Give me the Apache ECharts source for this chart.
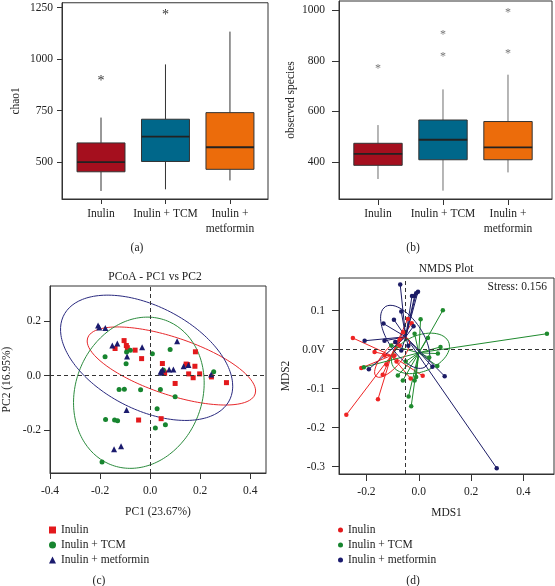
<!DOCTYPE html>
<html><head><meta charset="utf-8">
<script src="https://cdn.jsdelivr.net/npm/echarts@6/dist/echarts.min.js"></script>
<style>html,body{margin:0;padding:0;background:#fff}#c{width:555px;height:586px}</style>
</head><body><div id="c"></div>
<script>
// ---------- data ----------
const boxGroups = ['Inulin', 'Inulin + TCM', 'Inulin +\nmetformin'];
const groupNames = ['Inulin', 'Inulin + TCM', 'Inulin + metformin'];
// [lower whisker, Q1, median, Q3, upper whisker]
const chao1Stats = [[360, 453, 500, 593, 716], [368, 503, 624, 708, 974], [411, 465, 572, 740, 1133]];
const chao1Outliers = [[1, 906], [2, 1227]];
const chao1Ticks = [500, 750, 1000, 1250];
const speciesStats = [[333, 387, 432, 474, 546], [287, 409, 488, 566, 687], [359, 409, 458, 560, 745]];
const speciesOutliers = [[1, 780], [2, 912], [2, 826], [3, 1000], [3, 838]];
const speciesTicks = [400, 600, 800, 1000];

const pcoaInulin = [[-0.140,0.099],[-0.104,0.128],[-0.095,0.110],[-0.091,0.102],[-0.060,0.093],[-0.034,0.062],[0.049,0.044],[0.056,0.012],[0.100,-0.029],[0.144,0.042],[0.150,0.040],[0.179,0.034],[0.181,0.087],[0.154,0.006],[0.172,-0.008],[0.198,0.006],[0.245,-0.005],[0.305,-0.026],[-0.046,-0.163],[0.044,-0.158],[0.058,0.008]];
const pcoaTCM = [[-0.180,0.069],[-0.094,0.086],[-0.079,0.093],[-0.096,0.043],[0.009,0.080],[0.080,0.095],[-0.124,-0.051],[-0.103,-0.050],[-0.038,-0.052],[0.041,-0.051],[0.100,-0.078],[0.028,-0.122],[-0.178,-0.161],[-0.142,-0.163],[-0.130,-0.166],[0.021,-0.192],[0.061,-0.180],[-0.192,-0.317],[0.254,0.014],[0.053,0.020]];
const pcoaMetformin = [[-0.208,0.183],[-0.203,0.176],[-0.179,0.174],[-0.151,0.110],[-0.131,0.117],[-0.092,0.070],[-0.032,0.104],[0.108,0.126],[0.042,0.014],[0.050,0.021],[0.076,0.022],[0.093,0.022],[0.134,0.034],[0.153,0.039],[0.244,0.004],[-0.094,-0.126],[-0.144,-0.270],[-0.116,-0.259],[0.046,0.010]];
// ellipse: [centre x, centre y, half width, half height, correlation]
const pcoaEllipses = [[0.085, 0.035, 0.3365, 0.143, -0.64], [-0.045, -0.063, 0.261, 0.277, 0.13], [-0.014, 0.065, 0.344, 0.2295, -0.453]];
const pcoaXTicks = [-0.4, -0.2, 0, 0.2, 0.4];
const pcoaYTicks = [-0.2, 0, 0.2];

const nmdsInulin = [[-0.252,0.030],[-0.169,-0.006],[-0.220,-0.047],[-0.277,-0.167],[-0.156,-0.127],[-0.138,-0.064],[-0.124,-0.038],[-0.031,-0.074],[0.015,-0.067],[-0.042,0.079],[-0.027,0.068],[-0.073,0.026],[-0.073,0.011],[-0.093,-0.015],[-0.131,-0.015],[-0.060,0.045],[-0.085,-0.030]];
const nmdsTCM = [[0.092,0.101],[0.007,0.078],[0.035,0.030],[0.083,0.007],[0.490,0.041],[-0.210,-0.045],[-0.029,-0.145],[-0.039,-0.120],[-0.080,-0.066],[-0.061,-0.079],[-0.016,-0.079],[-0.010,-0.070],[0.071,-0.042],[0.073,-0.010],[-0.105,0.011],[-0.016,0.041],[0.040,-0.020],[-0.050,-0.030]];
const nmdsMetformin = [[-0.071,0.167],[-0.003,0.149],[-0.010,0.145],[-0.016,0.138],[-0.026,0.138],[-0.067,0.098],[-0.095,0.077],[-0.135,0.067],[-0.207,0.023],[-0.131,0.023],[-0.191,-0.050],[0.099,-0.068],[0.052,-0.044],[0.298,-0.304],[-0.067,-0.002],[-0.090,0.020],[-0.040,0.010],[-0.020,0.060]];
const nmdsCentroids = [[-0.105, -0.015], [0.0, -0.008], [-0.05, 0.033]];
const nmdsEllipses = [[-0.102, -0.02, 0.067, 0.051, 0.75], [0.0065, -0.0095, 0.111, 0.052, 0.35], [-0.052, 0.033, 0.094, 0.081, -0.6]];
const nmdsXTicks = [-0.2, 0, 0.2, 0.4];
const nmdsYTicks = [-0.3, -0.2, -0.1, 0, 0.1];
const nmdsStress = 0.156;

// ---------- styles ----------
const FONT = 'Liberation Serif';
const TXT = '#222';
const boxColors = ['#a50f1e', '#00678a', '#ec6c0b'];
const pcoaColors = ['#e3191c', '#17852f', '#1b1b6e'];
const pcoaEllColors = ['#e8282b', '#2b8b3d', '#2a2a7f'];
const nmdsColors = ['#ee2424', '#1f8a2e', '#1c1c66'];

function ellipsePts(e) {
  const [cx, cy, sx, sy, r] = e, k = Math.sqrt(1 - r * r), pts = [];
  for (let i = 0; i <= 180; i++) {
    const t = i / 180 * 2 * Math.PI;
    pts.push([cx + sx * Math.cos(t), cy + sy * (r * Math.cos(t) + k * Math.sin(t))]);
  }
  return pts;
}
function boxRender(whisker, halfW) {
  return function (params, api) {
    const x = api.value(0);
    const lo = api.coord([x, api.value(1)]), q1 = api.coord([x, api.value(2)]),
      md = api.coord([x, api.value(3)]), q3 = api.coord([x, api.value(4)]), hi = api.coord([x, api.value(5)]);
    const hw = api.size([halfW, 0])[0], cx = lo[0];
    return { type: 'group', children: [
      { type: 'line', shape: { x1: cx, y1: lo[1], x2: cx, y2: q1[1] }, style: { stroke: whisker, lineWidth: 1 } },
      { type: 'line', shape: { x1: cx, y1: q3[1], x2: cx, y2: hi[1] }, style: { stroke: whisker, lineWidth: 1 } },
      { type: 'rect', shape: { x: cx - hw, y: q3[1], width: 2 * hw, height: q1[1] - q3[1] }, style: { fill: boxColors[params.dataIndex], stroke: '#333', lineWidth: 1 } },
      { type: 'line', shape: { x1: cx - hw, y1: md[1], x2: cx + hw, y2: md[1] }, style: { stroke: '#222', lineWidth: 1.8 } }
    ] };
  };
}
function starRender(color, size) {
  return function (params, api) {
    const p = api.coord([api.value(0), api.value(1)]);
    return { type: 'text', x: p[0], y: p[1] + size * 0.22, style: { text: '*', fontSize: size, fontFamily: FONT, fill: color, align: 'center', verticalAlign: 'middle' } };
  };
}
function spiderRender(c0, color) {
  return function (params, api) {
    const c = api.coord(c0), p = api.coord([api.value(0), api.value(1)]);
    return { type: 'line', shape: { x1: c[0], y1: c[1], x2: p[0], y2: p[1] }, style: { stroke: color, lineWidth: 1 } };
  };
}
const lab = { fontFamily: FONT, fontSize: 11.5, color: TXT };
function valAxis(o) {
  return Object.assign({
    type: 'value', splitLine: { show: false },
    axisLine: { show: true, onZero: false, lineStyle: { color: '#333' } },
    axisTick: { length: o.tick || 6, lineStyle: { color: '#333' }, customValues: o.ticks },
    axisLabel: Object.assign({ customValues: o.ticks, margin: o.margin, formatter: o.fmt, lineHeight: 15 }, lab),
    nameLocation: 'middle', nameTextStyle: Object.assign({}, lab)
  }, o.extra);
}
const f1 = v => (Math.abs(v) < 1e-9 ? '0.0' : v.toFixed(1));
const dashed = { silent: true, symbol: 'none', label: { show: false }, lineStyle: { type: [4, 3], color: '#333', width: 1 } };

const option = {
  animation: false,
  backgroundColor: '#fff',
  grid: [
    { left: 62, top: 2, width: 206, height: 197, show: true, borderColor: '#333', borderWidth: 1 },
    { left: 339, top: 1, width: 213, height: 198, show: true, borderColor: '#333', borderWidth: 1 },
    { left: 50, top: 286, width: 216, height: 187, show: true, borderColor: '#333', borderWidth: 1 },
    { left: 339, top: 278, width: 215, height: 196, show: true, borderColor: '#333', borderWidth: 1 }
  ],
  xAxis: [
    valAxis({ ticks: [1, 2, 3], margin: 7, tick: 5, fmt: v => boxGroups[Math.round(v) - 1], extra: { gridIndex: 0, min: 0.395, max: 3.59 } }),
    valAxis({ ticks: [1, 2, 3], margin: 7, tick: 6, fmt: v => boxGroups[Math.round(v) - 1], extra: { gridIndex: 1, min: 0.4, max: 3.677 } }),
    valAxis({ ticks: pcoaXTicks, margin: 10, fmt: f1, extra: { gridIndex: 2, min: -0.4, max: 0.463, name: 'PC1 (23.67%)', nameGap: 33 } }),
    valAxis({ ticks: nmdsXTicks, margin: 10, tick: 7, fmt: f1, extra: { gridIndex: 3, min: -0.305, max: 0.517, name: 'MDS1', nameGap: 33 } })
  ],
  yAxis: [
    valAxis({ ticks: chao1Ticks, margin: 9, tick: 5, fmt: v => String(v), extra: { gridIndex: 0, min: 321, max: 1273, name: 'chao1', nameGap: 40 } }),
    valAxis({ ticks: speciesTicks, margin: 14, tick: 7, fmt: v => String(v), extra: { gridIndex: 1, min: 254, max: 1036, name: 'observed species', nameGap: 42 } }),
    valAxis({ ticks: pcoaYTicks, margin: 9, fmt: f1, extra: { gridIndex: 2, min: -0.357, max: 0.328, name: 'PC2 (16.95%)', nameGap: 37 } }),
    valAxis({ ticks: nmdsYTicks, margin: 14, tick: 7, fmt: v => (Math.abs(v) < 1e-9 ? '0.0V' : v.toFixed(1)), extra: { gridIndex: 3, min: -0.319, max: 0.184, name: 'MDS2', nameGap: 47 } })
  ],
  legend: [
    { left: 49, top: 523, orient: 'vertical', padding: 0, itemGap: 1, itemWidth: 7, itemHeight: 7, selectedMode: false,
      textStyle: Object.assign({ lineHeight: 14 }, lab),
      data: [{ name: groupNames[0], icon: 'rect' }, { name: groupNames[1], icon: 'circle' }, { name: groupNames[2], icon: 'triangle' }] },
    { left: 338, top: 523, orient: 'vertical', padding: 0, itemGap: 1, itemWidth: 5, itemHeight: 5, selectedMode: false,
      textStyle: Object.assign({ lineHeight: 14 }, lab),
      data: groupNames.map(n => ({ name: n, icon: 'circle' })) }
  ],
  graphic: [
    { type: 'text', x: 137, y: 248, style: { text: '(a)', align: 'center', verticalAlign: 'middle', fontSize: 11.5, fontFamily: FONT, fill: TXT } },
    { type: 'text', x: 413, y: 248, style: { text: '(b)', align: 'center', verticalAlign: 'middle', fontSize: 11.5, fontFamily: FONT, fill: TXT } },
    { type: 'text', x: 99, y: 581, style: { text: '(c)', align: 'center', verticalAlign: 'middle', fontSize: 11.5, fontFamily: FONT, fill: TXT } },
    { type: 'text', x: 413, y: 581, style: { text: '(d)', align: 'center', verticalAlign: 'middle', fontSize: 11.5, fontFamily: FONT, fill: TXT } },
    { type: 'text', x: 155, y: 277, style: { text: 'PCoA - PC1 vs PC2', align: 'center', verticalAlign: 'middle', fontSize: 11.5, fontFamily: FONT, fill: TXT } },
    { type: 'text', x: 446, y: 269, style: { text: 'NMDS Plot', align: 'center', verticalAlign: 'middle', fontSize: 11.5, fontFamily: FONT, fill: TXT } },
    { type: 'text', x: 547, y: 287, style: { text: 'Stress: ' + nmdsStress, align: 'right', verticalAlign: 'middle', fontSize: 11.5, fontFamily: FONT, fill: TXT } }
  ],
  series: []
};

// (a) and (b) boxplots
option.series.push({ type: 'custom', name: 'chao1', xAxisIndex: 0, yAxisIndex: 0, renderItem: boxRender('#333', 0.372), encode: { x: 0, y: [1, 2, 3, 4, 5] }, data: chao1Stats.map((s, i) => [i + 1].concat(s)) });
option.series.push({ type: 'custom', name: 'chao1 outliers', xAxisIndex: 0, yAxisIndex: 0, renderItem: starRender('#333', 14), encode: { x: 0, y: 1 }, data: chao1Outliers });
option.series.push({ type: 'custom', name: 'species', xAxisIndex: 1, yAxisIndex: 1, renderItem: boxRender('#6e6e6e', 0.372), encode: { x: 0, y: [1, 2, 3, 4, 5] }, data: speciesStats.map((s, i) => [i + 1].concat(s)) });
option.series.push({ type: 'custom', name: 'species outliers', xAxisIndex: 1, yAxisIndex: 1, renderItem: starRender('#777', 12), encode: { x: 0, y: 1 }, data: speciesOutliers });

// (c) PCoA
pcoaEllipses.forEach((e, i) => option.series.push({ type: 'line', name: 'pcoa-ell-' + i, xAxisIndex: 2, yAxisIndex: 2, data: ellipsePts(e), showSymbol: false, symbol: 'none', smooth: false, lineStyle: { color: pcoaEllColors[i], width: 1 }, z: 2 }));
const pcoaSets = [pcoaInulin, pcoaTCM, pcoaMetformin], pcoaSym = ['rect', 'circle', 'triangle'], pcoaSize = [5, 5, 6];
pcoaSets.forEach((d, i) => option.series.push({ type: 'scatter', name: groupNames[i], xAxisIndex: 2, yAxisIndex: 2, data: d, symbol: pcoaSym[i], symbolSize: pcoaSize[i], itemStyle: { color: pcoaColors[i], opacity: 1 }, z: 3,
  markLine: i === 0 ? Object.assign({ data: [{ xAxis: 0 }, { yAxis: 0 }] }, dashed) : undefined }));

// (d) NMDS
const nmdsSets = [nmdsInulin, nmdsTCM, nmdsMetformin];
nmdsSets.forEach((d, i) => option.series.push({ type: 'custom', name: 'nmds-spider-' + i, xAxisIndex: 3, yAxisIndex: 3, renderItem: spiderRender(nmdsCentroids[i], nmdsColors[i]), encode: { x: 0, y: 1 }, data: d, z: 2 }));
nmdsEllipses.forEach((e, i) => option.series.push({ type: 'line', name: 'nmds-ell-' + i, xAxisIndex: 3, yAxisIndex: 3, data: ellipsePts(e), showSymbol: false, symbol: 'none', smooth: false, lineStyle: { color: nmdsColors[i], width: 1 }, z: 3 }));
nmdsSets.forEach((d, i) => option.series.push({ type: 'scatter', name: groupNames[i], xAxisIndex: 3, yAxisIndex: 3, data: d, symbol: 'circle', symbolSize: 4.5, itemStyle: { color: nmdsColors[i], opacity: 1 }, z: 4,
  markLine: i === 0 ? Object.assign({ data: [{ xAxis: -0.05 }, { yAxis: 0 }] }, dashed) : undefined }));

const chart = echarts.init(document.getElementById('c'), null, { renderer: 'canvas' });
chart.setOption(option);
</script></body></html>
